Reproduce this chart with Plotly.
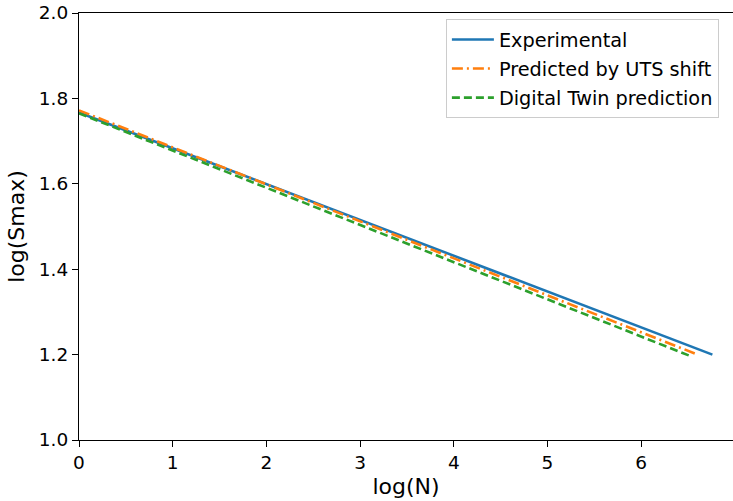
import plotly.graph_objects as go

# Data
exp_x = [0.0, 6.76]
exp_y = [1.767, 1.200]
uts_x = [0.0, 6.58]
uts_y = [1.772, 1.202]
dt_x = [0.0, 6.52]
dt_y = [1.765, 1.197]

names = ["Experimental", "Predicted by UTS shift", "Digital Twin prediction"]
colors = ["#1f77b4", "#ff7f0e", "#2ca02c"]
dashes = ["solid", "11px,4px,2px,4px", "8px,4px"]

fig = go.Figure()
for i, (xs, ys) in enumerate([(exp_x, exp_y), (uts_x, uts_y), (dt_x, dt_y)]):
    fig.add_trace(go.Scatter(
        x=xs, y=ys, mode="lines", name=names[i], legendgroup=str(i),
        line=dict(color=colors[i], width=2.6, dash=dashes[i]),
    ))

font = dict(family="DejaVu Sans", size=18.5, color="black")
fig.update_layout(
    width=733, height=501,
    margin=dict(l=79, r=0, t=13, b=61),
    paper_bgcolor="white", plot_bgcolor="white",
    font=font,
    showlegend=True,
    legend=dict(x=0.561, y=0.985, xanchor="left", yanchor="top",
                bordercolor="#cccccc", borderwidth=1, bgcolor="white",
                font=dict(family="DejaVu Sans", size=19.3, color="black"),
                itemwidth=42,
                tracegroupgap=1),
    xaxis=dict(range=[0, 6.98], tickvals=[0, 1, 2, 3, 4, 5, 6, 7],
               ticks="outside", ticklen=6, tickcolor="black", tickwidth=1.2,
               showline=True, linecolor="black", linewidth=1.2, mirror=True,
               showgrid=False, zeroline=False,
               title=dict(text="log(N)", standoff=6)),
    yaxis=dict(range=[1.0, 2.0], tickvals=[1.0, 1.2, 1.4, 1.6, 1.8, 2.0],
               tickformat=".1f",
               ticks="outside", ticklen=6, tickcolor="black", tickwidth=1.2,
               showline=True, linecolor="black", linewidth=1.2, mirror=True,
               showgrid=False, zeroline=False,
               title=dict(text="log(Smax)", standoff=8)),
)
fig.write_html("out.html")
